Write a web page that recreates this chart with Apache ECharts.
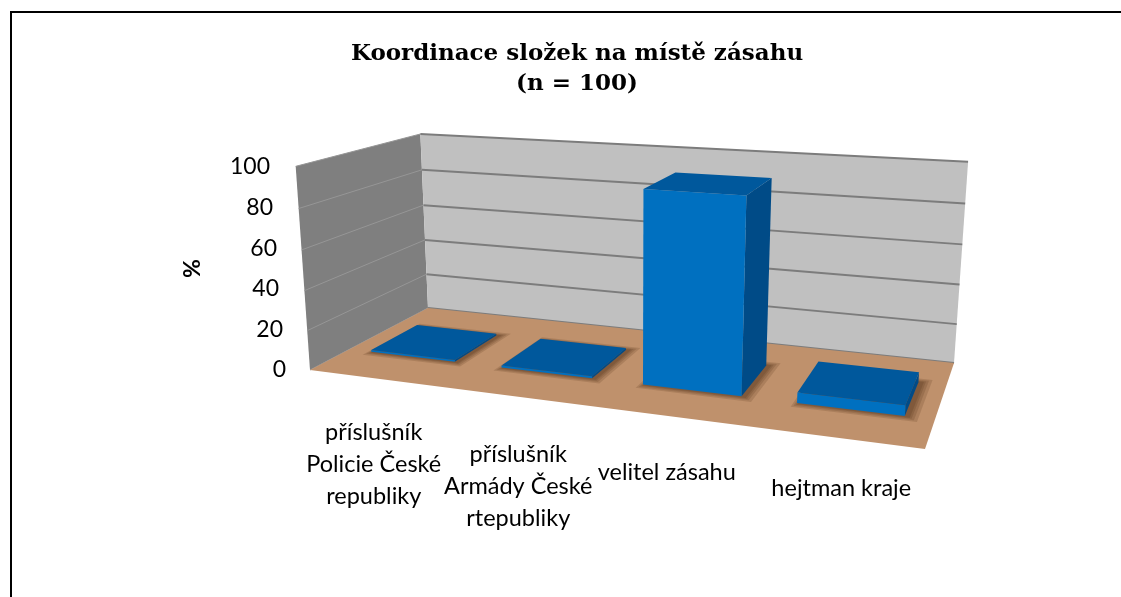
<!DOCTYPE html>
<html lang="cs">
<head>
  <meta charset="UTF-8">
  <title>Koordinace složek na místě zásahu</title>
  <script src="https://cdn.jsdelivr.net/npm/echarts@6/dist/echarts.min.js"></script>
  <style>
    html, body { margin: 0; padding: 0; background: #fff; }
    #chart { width: 1121px; height: 597px; }
  </style>
</head>
<body>
  <div id="chart"></div>
<script>
  // data
  const categories = ['příslušník\nPolicie České\nrepubliky', 'příslušník\nArmády České\nrtepubliky', 'velitel zásahu', 'hejtman kraje'];
  const values = [1, 1, 93, 5];
  const yTicks = [0, 20, 40, 60, 80, 100];

  // box of the 3d scene on screen: floor corners (front-left, front-right, back-right, back-left)
  // and three top corners [X, Z, screenX, screenY]
  const FLOOR = [[310, 370], [925, 449], [954, 363], [428, 308]];
  const TOPS = [[0, 1, 421, 135], [1, 1, 968, 162], [0, 0, 295, 165]];
  const BAR_FRAC = 0.65;
  const Z0 = 0.3, Z1 = 0.7;

  function det3(m) {
    return m[0][0] * (m[1][1] * m[2][2] - m[1][2] * m[2][1])
         - m[0][1] * (m[1][0] * m[2][2] - m[1][2] * m[2][0])
         + m[0][2] * (m[1][0] * m[2][1] - m[1][1] * m[2][0]);
  }
  function solve3(m, r) {
    const D = det3(m);
    return [0, 1, 2].map(k => det3(m.map((row, i) => row.map((v, j) => j === k ? r[i] : v))) / D);
  }

  // perspective projector built from the box corners
  function makeProjector() {
    const [p0, p1, p2, p3] = FLOOR;
    const sx = p0[0] - p1[0] + p2[0] - p3[0], sy = p0[1] - p1[1] + p2[1] - p3[1];
    const dx1 = p1[0] - p2[0], dx2 = p3[0] - p2[0], dy1 = p1[1] - p2[1], dy2 = p3[1] - p2[1];
    const den = dx1 * dy2 - dx2 * dy1;
    const g = (sx * dy2 - dx2 * sy) / den, hh = (dx1 * sy - sx * dy1) / den;
    const a = p1[0] - p0[0] + g * p1[0], b = p3[0] - p0[0] + hh * p3[0], c = p0[0];
    const d = p1[1] - p0[1] + g * p1[1], e = p3[1] - p0[1] + hh * p3[1], f = p0[1];
    // least squares for the vertical column
    const AtA = [[0, 0, 0], [0, 0, 0], [0, 0, 0]], Atb = [0, 0, 0];
    TOPS.forEach(([X, Z, px, py]) => {
      const w0 = g * X + hh * Z + 1, n1 = a * X + b * Z + c, n2 = d * X + e * Z + f;
      [[[1, 0, -px], px * w0 - n1], [[0, 1, -py], py * w0 - n2]].forEach(([row, rhs]) => {
        for (let i = 0; i < 3; i++) {
          Atb[i] += row[i] * rhs;
          for (let j = 0; j < 3; j++) AtA[i][j] += row[i] * row[j];
        }
      });
    });
    const [k1, k2, k3] = solve3(AtA, Atb);
    const proj = (X, Y, Z) => {
      const w = g * X + k3 * Y + hh * Z + 1;
      return [(a * X + k1 * Y + b * Z + c) / w, (d * X + k2 * Y + e * Z + f) / w];
    };
    const cam = solve3([[a, k1, b], [d, k2, e], [g, k3, hh]], [-c, -f, -1]);
    return { proj, cam };
  }
  const P = makeProjector();

  function poly(pts, style) {
    return { type: 'polygon', shape: { points: pts.map(p => P.proj(p[0], p[1], p[2])) }, style };
  }
  function line(p, q, stroke, lw) {
    const a = P.proj(p[0], p[1], p[2]), b = P.proj(q[0], q[1], q[2]);
    return { type: 'line', shape: { x1: a[0], y1: a[1], x2: b[0], y2: b[1] }, style: { stroke, lineWidth: lw } };
  }

  function renderScene(params, api) {
    const rect = params.coordSys;
    const hs = yTicks.map(t => (rect.y + rect.height - api.coord([0, t])[1]) / rect.height);
    const children = [
      poly([[0, 0, 0], [0, 0, 1], [0, 1, 1], [0, 1, 0]], { fill: '#7f7f7f' }),
      poly([[0, 0, 1], [1, 0, 1], [1, 1, 1], [0, 1, 1]], { fill: '#c0c0c0' })
    ];
    hs.forEach(h => {
      children.push(line([0, h, 0], [0, h, 1], '#969696', 1));
      children.push(line([0, h, 1], [1, h, 1], '#7c7c7c', 2));
    });
    children.push(poly([[0, 0, 0], [1, 0, 0], [1, 0, 1], [0, 0, 1]], { fill: '#bf916c' }));
    return { type: 'group', children };
  }

  function renderBar(params, api) {
    const rect = params.coordSys;
    const base = api.coord([api.value(0), 0]);
    const top = api.coord([api.value(0), api.value(1)]);
    const band = api.size([1, 0])[0];
    const uc = (base[0] - rect.x) / rect.width;
    const hw = band * BAR_FRAC / 2 / rect.width;
    const x0 = uc - hw, x1 = uc + hw;
    const h = (base[1] - top[1]) / rect.height;
    const cam = P.cam;
    const children = [];
    // soft shadow on the floor, a few widening layers
    [0.016, 0.011, 0.007, 0.004].forEach(s => {
      const sx0 = x0 - s * 0.6 + 0.004, sx1 = x1 + s + 0.004;
      children.push(poly([[sx0, 0, Z0 - s * 3], [sx1, 0, Z0 - s * 3], [sx1, 0, Z1 + s * 3], [sx0, 0, Z1 + s * 3]],
        { fill: 'rgba(70,38,14,0.16)' }));
    });
    if (cam[0] < x0) children.push(poly([[x0, 0, Z0], [x0, 0, Z1], [x0, h, Z1], [x0, h, Z0]], { fill: '#004b87' }));
    if (cam[0] > x1) children.push(poly([[x1, 0, Z0], [x1, 0, Z1], [x1, h, Z1], [x1, h, Z0]], { fill: '#004b87' }));
    if (cam[2] < Z0) children.push(poly([[x0, 0, Z0], [x1, 0, Z0], [x1, h, Z0], [x0, h, Z0]], { fill: '#0070c0' }));
    if (cam[1] > h) children.push(poly([[x0, h, Z0], [x1, h, Z0], [x1, h, Z1], [x0, h, Z1]], { fill: '#00589c' }));
    return { type: 'group', children };
  }

  const chart = echarts.init(document.getElementById('chart'));
  const labelFont = 'Lato, "Open Sans", sans-serif';
  const yPad = { 0: 0, 20: 3, 40: 7, 60: 9, 80: 13, 100: 16 };
  const yRich = {};
  yTicks.forEach(t => { yRich['y' + t] = { fontSize: 23, fontFamily: labelFont, color: '#000', padding: [0, yPad[t] || 0, 0, 0] }; });
  // label spacing: top gap and horizontal shift of each category label
  const gaps = [36, 58, 76, 92];
  const shifts = [[6, 0], [0, 12], [0, 22], [20, 0]];
  const xRich = {};
  gaps.forEach((gp, i) => {
    xRich['g' + i] = { fontSize: 1, lineHeight: gp };
    xRich['t' + i] = { fontSize: 23.5, lineHeight: 32, fontFamily: labelFont, color: '#000', padding: [0, shifts[i][1], 0, shifts[i][0]] };
  });

  chart.setOption({
    animation: false,
    backgroundColor: '#fff',
    title: {
      text: 'Koordinace složek na místě zásahu\n(n = 100)',
      left: 572,
      top: 34,
      textAlign: 'center',
      textStyle: { fontFamily: '"DejaVu Serif", serif', fontWeight: 'bold', fontSize: 23, lineHeight: 30, color: '#000' }
    },
    grid: { left: 294, top: 167, width: 614, height: 203 },
    xAxis: {
      type: 'category',
      data: categories,
      axisLine: { show: false },
      axisTick: { show: false },
      splitLine: { show: false },
      axisLabel: {
        interval: 0,
        margin: 10,
        formatter: (v, i) => '{g' + i + '|\u00a0}\n' + v.split('\n').map(l => '{t' + i + '|' + l + '}').join('\n'),
        rich: xRich
      }
    },
    yAxis: {
      type: 'value',
      min: yTicks[0],
      max: yTicks[yTicks.length - 1],
      interval: yTicks[1] - yTicks[0],
      name: '%',
      nameLocation: 'middle',
      nameRotate: 90,
      nameGap: 90,
      nameTextStyle: { fontFamily: labelFont, fontWeight: 'bold', fontSize: 23, color: '#000' },
      axisLine: { show: false },
      axisTick: { show: false },
      splitLine: { show: false },
      axisLabel: { margin: 8, formatter: v => '{y' + v + '|' + v + '}', rich: yRich }
    },
    series: [
      { type: 'custom', name: 'scene', silent: true, clip: false, data: [[0, 0]], renderItem: renderScene, z: 1 },
      { type: 'custom', name: 'bars', silent: true, clip: false, data: values.map((v, i) => [i, v]), encode: { x: 0, y: 1 }, renderItem: renderBar, z: 2 }
    ],
    graphic: [
      { type: 'polyline', shape: { points: [[11, 600], [11, 12], [1121, 12]] }, style: { stroke: '#000', lineWidth: 2, fill: null }, z: 10 }
    ]
  });
</script>
</body>
</html>
